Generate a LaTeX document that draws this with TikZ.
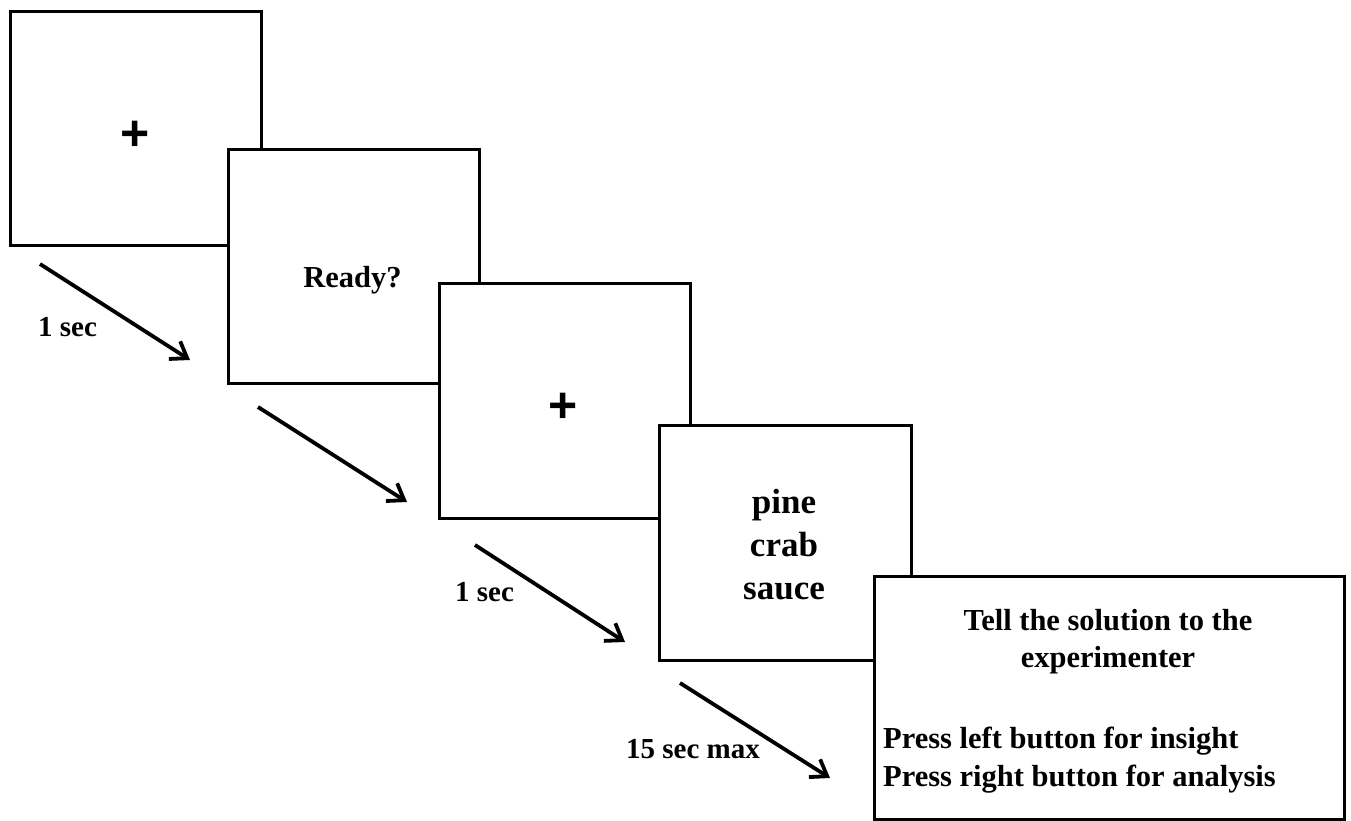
\documentclass[tikz,border=0pt]{standalone}
\usepackage{fontspec}
\setmainfont{Liberation Serif}
\newfontfamily\plusfont{Liberation Sans}
\usetikzlibrary{arrows.meta}
\tikzset{
  screen/.style={draw=black, fill=white, line width=3.4pt, inner sep=0pt, anchor=north west},
  lbl/.style={inner sep=0pt, font=\bfseries\fontsize{29}{34}\selectfont},
  txt/.style={inner sep=0pt, font=\bfseries\fontsize{30.5}{36}\selectfont},
  word/.style={inner sep=0pt, anchor=base, font=\bfseries\fontsize{35}{42}\selectfont},
  fix/.style={inner sep=0pt, font=\plusfont\bfseries\fontsize{50}{50}\selectfont},
  flow/.style={line width=3.8pt, -{Straight Barb[length=15pt,width=21pt]}}
}
\begin{document}
\begin{tikzpicture}[x=1pt,y=-1pt]
\useasboundingbox (0,0) rectangle (1351,821);
% screens
\node[screen, minimum width=251pt, minimum height=234pt] (s1) at (9,10) {};
\node[fix] (p1) at (135,136) {+};
\node[screen, minimum width=251pt, minimum height=234pt] (s2) at (227,148) {};
\node[txt, anchor=base] (ready) at (352.5,287) {Ready?};
\node[screen, minimum width=251pt, minimum height=235pt] (s3) at (438,282) {};
\node[fix] (p2) at (563,408) {+};
\node[screen, minimum width=252pt, minimum height=235pt] (s4) at (658,424) {};
\node[word] (w1) at (784,513) {pine};
\node[word] (w2) at (784,556) {crab};
\node[word] (w3) at (784,599) {sauce};
\node[screen, minimum width=470pt, minimum height=243pt] (s5) at (873,575) {};
\node[txt, anchor=base] (t1) at (1108,630) {Tell the solution to the};
\node[txt, anchor=base] (t2) at (1108,667) {experimenter};
\node[txt, anchor=base west] (t3) at (883,748) {Press left button for insight};
\node[txt, anchor=base west] (t4) at (883,786) {Press right button for analysis};
% arrows
\coordinate (a1s) at (40,264);  \coordinate (a1e) at (190,360);
\coordinate (a2s) at (258,407); \coordinate (a2e) at (407,502);
\coordinate (a3s) at (475,545); \coordinate (a3e) at (625,642);
\coordinate (a4s) at (680,683); \coordinate (a4e) at (830,778);
\draw[flow] (a1s) -- (a1e);
\draw[flow] (a2s) -- (a2e);
\draw[flow] (a3s) -- (a3e);
\draw[flow] (a4s) -- (a4e);
% labels
\node[lbl, anchor=base west] (l1) at (38,336) {1 sec};
\node[lbl, anchor=base west] (l2) at (455,601) {1 sec};
\node[lbl, anchor=base west] (l3) at (626,758) {15 sec max};
\end{tikzpicture}
\end{document}
